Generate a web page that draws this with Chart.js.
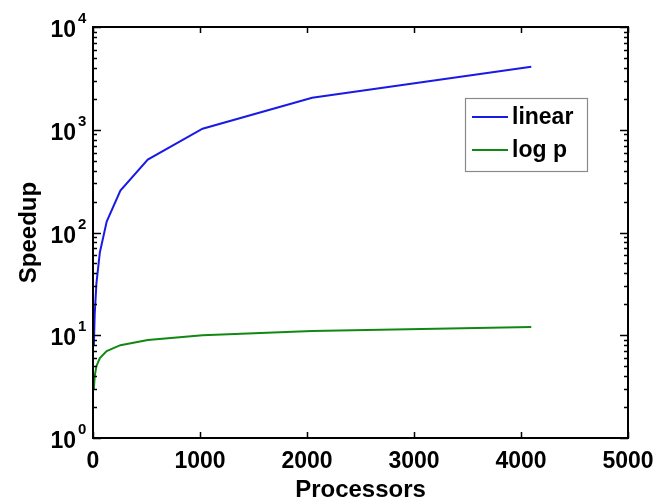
<!DOCTYPE html>
<html>
<head>
<meta charset="utf-8">
<script src="https://cdn.jsdelivr.net/npm/chart.js@4.4.0/dist/chart.umd.min.js"></script>
<style>
html,body{margin:0;padding:0;background:#fff;}
#wrap{width:666px;height:502px;}
</style>
</head>
<body>
<div id="wrap"><canvas id="c" width="666" height="502"></canvas></div>
<script>
// ---- data ----
const processors = [8, 16, 32, 64, 128, 256, 512, 1024, 2048, 4096];
const linearSpeedup = [8, 16, 32, 64, 128, 256, 512, 1024, 2048, 4096];
const logSpeedup = [3, 4, 5, 6, 7, 8, 9, 10, 11, 12];
const seriesNames = ['linear', 'log p'];
const xTicks = [0, 1000, 2000, 3000, 4000, 5000];
const yExponents = [0, 1, 2, 3, 4];
const xTitle = 'Processors';
const yTitle = 'Speedup';

const FONT = '"Liberation Sans", Arial, Helvetica, sans-serif';
const BLUE = '#1a1ae6';
const GREEN = '#118811';

const decor = {
  id: 'decor',
  afterDraw(chart) {
    const ctx = chart.ctx;
    const a = chart.chartArea;
    const xs = chart.scales.x, ys = chart.scales.y;
    ctx.save();
    ctx.strokeStyle = '#000';
    ctx.fillStyle = '#000';
    // frame
    ctx.lineWidth = 2;
    ctx.strokeRect(a.left, a.top, a.right - a.left, a.bottom - a.top);
    // x ticks (inside, bottom and top)
    ctx.lineWidth = 1.5;
    ctx.beginPath();
    xTicks.forEach(v => {
      const px = Math.round(xs.getPixelForValue(v)) + 0.5;
      ctx.moveTo(px, a.bottom); ctx.lineTo(px, a.bottom - 6);
      ctx.moveTo(px, a.top); ctx.lineTo(px, a.top + 6);
    });
    // y ticks major + minor (inside, left and right)
    yExponents.forEach(e => {
      for (let m = 1; m <= 9; m++) {
        const v = m * Math.pow(10, e);
        if (v > 10000) break;
        const py = Math.round(ys.getPixelForValue(v)) + 0.5;
        const len = m === 1 ? 8 : 4;
        ctx.moveTo(a.left, py); ctx.lineTo(a.left + len, py);
        ctx.moveTo(a.right, py); ctx.lineTo(a.right - len, py);
      }
    });
    ctx.stroke();
    // x tick labels
    ctx.font = 'bold 23px ' + FONT;
    ctx.textAlign = 'center';
    ctx.textBaseline = 'alphabetic';
    xTicks.forEach(v => {
      ctx.fillText(String(v), xs.getPixelForValue(v), 468);
    });
    // y tick labels 10^e
    yExponents.forEach(e => {
      const py = ys.getPixelForValue(Math.pow(10, e));
      ctx.font = 'bold 23px ' + FONT;
      ctx.textAlign = 'right';
      ctx.fillText('10', 76, py + 10);
      ctx.font = 'bold 15px ' + FONT;
      ctx.textAlign = 'left';
      ctx.fillText(String(e), 78, py - 4);
    });
    // axis titles
    ctx.font = 'bold 24px ' + FONT;
    ctx.textAlign = 'center';
    ctx.fillText(xTitle, (a.left + a.right) / 2, 497);
    ctx.save();
    ctx.translate(36, (a.top + a.bottom) / 2);
    ctx.rotate(-Math.PI / 2);
    ctx.fillText(yTitle, 0, 0);
    ctx.restore();
    // legend
    ctx.fillStyle = '#fff';
    ctx.fillRect(465, 98, 122, 73);
    ctx.strokeStyle = '#8a8a8a';
    ctx.lineWidth = 1.2;
    ctx.strokeRect(465.5, 98.5, 122, 73);
    const rows = [117, 150];
    chart.data.datasets.forEach((ds, i) => {
      ctx.strokeStyle = ds.borderColor;
      ctx.lineWidth = 2;
      ctx.beginPath();
      ctx.moveTo(472, rows[i]); ctx.lineTo(508, rows[i]);
      ctx.stroke();
      ctx.fillStyle = '#000';
      ctx.font = 'bold 23px ' + FONT;
      ctx.textAlign = 'left';
      ctx.textBaseline = 'middle';
      ctx.fillText(ds.label, 512, rows[i] + 1);
    });
    ctx.restore();
  }
};

new Chart(document.getElementById('c'), {
  type: 'line',
  data: {
    datasets: [
      { label: seriesNames[0], data: processors.map((p, i) => ({x: p, y: linearSpeedup[i]})),
        borderColor: BLUE, borderWidth: 2, pointRadius: 0, fill: false, tension: 0 },
      { label: seriesNames[1], data: processors.map((p, i) => ({x: p, y: logSpeedup[i]})),
        borderColor: GREEN, borderWidth: 2, pointRadius: 0, fill: false, tension: 0 }
    ]
  },
  options: {
    responsive: false,
    animation: false,
    devicePixelRatio: 1,
    layout: { padding: { left: 93, right: 38, top: 27, bottom: 64 } },
    plugins: { legend: { display: false }, tooltip: { enabled: false } },
    scales: {
      x: { type: 'linear', min: 0, max: 5000, display: false },
      y: { type: 'logarithmic', min: 1, max: 10000, display: false }
    }
  },
  plugins: [decor]
});
</script>
</body>
</html>
